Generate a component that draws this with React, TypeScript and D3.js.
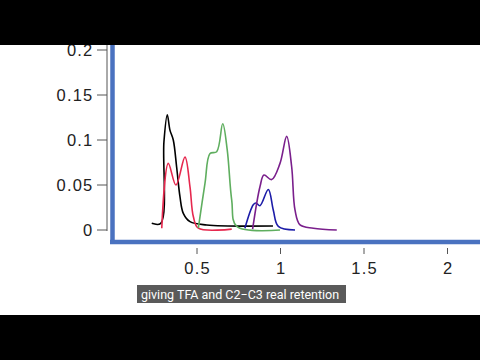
import React from "react";
import * as d3 from "d3";

const yTicks = [0, 0.05, 0.1, 0.15, 0.2];
const yTickLabels = ["0", "0.05", "0.1", "0.15", "0.2"];
const xTicks = [0.5, 1, 1.5, 2];
const xTickLabels = ["0.5", "1", "1.5", "2"];

const blackSeries: [number, number][] = [
  [0.229, 0.0074], [0.283, 0.0074], [0.302, 0.098], [0.322, 0.128], [0.338, 0.111],
  [0.358, 0.1], [0.378, 0.07], [0.398, 0.037], [0.418, 0.0185], [0.458, 0.0093],
  [0.558, 0.0056], [0.955, 0.0045],
];
const redSeries: [number, number][] = [
  [0.289, 0.002], [0.328, 0.074], [0.374, 0.05], [0.428, 0.081], [0.458, 0.048],
  [0.478, 0.015], [0.508, 0.002], [0.708, 0.001],
];
const greenSeries: [number, number][] = [
  [0.508, 0.002], [0.548, 0.052], [0.578, 0.085], [0.618, 0.087], [0.654, 0.118],
  [0.681, 0.089], [0.708, 0.033], [0.738, 0.004], [0.997, 0.0],
];
const blueSeries: [number, number][] = [
  [0.787, 0.002], [0.837, 0.028], [0.853, 0.03], [0.877, 0.027], [0.927, 0.045],
  [0.957, 0.022], [0.987, 0.004], [1.087, 0.0],
];
const purpleSeries: [number, number][] = [
  [0.833, 0.001], [0.877, 0.048], [0.901, 0.061], [0.947, 0.056], [0.997, 0.074],
  [1.037, 0.104], [1.067, 0.07], [1.087, 0.022], [1.117, 0.0056], [1.197, 0.002],
  [1.337, 0.0],
];

const seriesList = [
  { name: "black", data: blackSeries, color: "#000000" },
  { name: "red", data: redSeries, color: "#e6284e" },
  { name: "green", data: greenSeries, color: "#5fae5f" },
  { name: "blue", data: blueSeries, color: "#1c1ca8" },
  { name: "purple", data: purpleSeries, color: "#7a1f8c" },
];

const caption = "giving TFA and C2\u2212C3 real retention";

export default function App() {
  const x = d3.scaleLinear().domain([0, 2]).range([113.5, 447.5]);
  const y = d3.scaleLinear().domain([0, 0.2]).range([230, 50]);
  const line = d3
    .line<[number, number]>()
    .x((d) => x(d[0]))
    .y((d) => y(d[1]))
    .curve(d3.curveCatmullRom.alpha(0.5));
  const font = "'Liberation Sans', Arial, sans-serif";
  return (
    <svg
      width={480}
      height={360}
      style={{ position: "absolute", left: 0, top: 0, display: "block" }}
    >
      <rect x={0} y={0} width={480} height={360} fill="#ffffff" />
      {/* thin gray y axis */}
      <line x1={107} x2={107} y1={40} y2={231} stroke="#555" strokeWidth={1} />
      {yTicks.map((t, i) => (
        <g key={t}>
          <line x1={97} x2={107} y1={y(t)} y2={y(t)} stroke="#555" strokeWidth={1} />
          <text
            x={93.5}
            y={y(t)}
            dy="0.36em"
            textAnchor="end"
            fontFamily={font}
            fontSize={16.5}
            letterSpacing={1.2}
            fill="#222"
          >
            {yTickLabels[i]}
          </text>
        </g>
      ))}
      {xTicks.map((t, i) => (
        <g key={t}>
          <line x1={x(t)} x2={x(t)} y1={248} y2={254} stroke="#555" strokeWidth={1} />
          <text
            x={x(t) + 0.6}
            y={273.5}
            textAnchor="middle"
            fontFamily={font}
            fontSize={16.5}
            letterSpacing={1.2}
            fill="#222"
          >
            {xTickLabels[i]}
          </text>
        </g>
      ))}
      {/* blue frame */}
      <line x1={112.5} x2={112.5} y1={0} y2={244} stroke="#4a72c0" strokeWidth={4.5} />
      <line x1={110} x2={480} y1={242} y2={242} stroke="#4a72c0" strokeWidth={4.5} />
      {seriesList.map((s) => (
        <path
          key={s.name}
          d={line(s.data) || ""}
          fill="none"
          stroke={s.color}
          strokeWidth={1.6}
        />
      ))}
      {/* caption */}
      <rect x={137} y={285} width={209} height={18} fill="#5a5a5a" />
      <text
        x={141}
        y={298.5}
        fontFamily="Roboto, sans-serif"
        fontSize={12.5}
        fill="#ffffff"
      >
        {caption}
      </text>
      {/* letterbox bands */}
      <rect x={0} y={0} width={480} height={45} fill="#000" />
      <rect x={0} y={315} width={480} height={45} fill="#000" />
    </svg>
  );
}
